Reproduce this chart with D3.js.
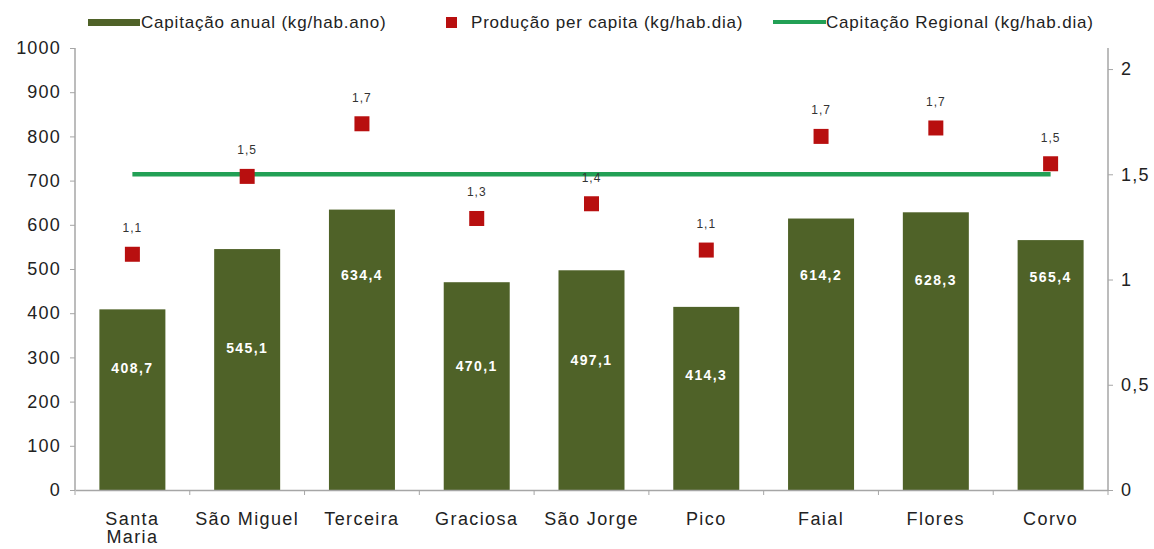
<!DOCTYPE html>
<html>
<head>
<meta charset="utf-8">
<script src="https://cdn.jsdelivr.net/npm/d3@7"></script>
<style>
  body { margin: 0; background: #fff; }
  text { font-family: "Liberation Sans", Arial, sans-serif; }
</style>
</head>
<body>
<svg id="chart" width="1154" height="549"></svg>
<script>
// data
var ilhas = ['Santa Maria', 'São Miguel', 'Terceira', 'Graciosa', 'São Jorge', 'Pico', 'Faial', 'Flores', 'Corvo'];
var capitacaoAnual = [408.7, 545.1, 634.4, 470.1, 497.1, 414.3, 614.2, 628.3, 565.4];
var producaoDia = [1.12, 1.49, 1.74, 1.29, 1.36, 1.14, 1.68, 1.72, 1.55];
var producaoLabels = ['1,1', '1,5', '1,7', '1,3', '1,4', '1,1', '1,7', '1,7', '1,5'];
var capitacaoRegional = 1.5;
var leftTicks = [0, 100, 200, 300, 400, 500, 600, 700, 800, 900, 1000];
var rightTicks = [0, 0.5, 1, 1.5, 2];
var legendNames = ['Capitação anual (kg/hab.ano)', 'Produção per capita (kg/hab.dia)', 'Capitação Regional (kg/hab.dia)'];
// where the value labels sit inside the bars (kg units, as placed in the original)
var barLabelAt = [276, 321, 486, 280, 294, 260, 486, 475, 482];

var svg = d3.select('#chart');
var margin = {top: 48, right: 46, bottom: 59, left: 75};
var width = +svg.attr('width') - margin.left - margin.right;
var height = +svg.attr('height') - margin.top - margin.bottom;
var g = svg.append('g').attr('transform', 'translate(' + margin.left + ',' + margin.top + ')');

var olive = '#4f6228', red = '#b80f0f', green = '#22a055', axisGray = '#a6a6a6';

var x = d3.scaleBand().domain(ilhas).range([0, width]).paddingInner(0.425).paddingOuter(0.2125);
var xTick = d3.scaleBand().domain(ilhas).range([0, width]);
var y = d3.scaleLinear().domain([0, 1000]).range([height, 0]);
var y2 = d3.scaleLinear().domain([0, 2.1]).range([height, 0]);
var fmt = function(v) { return String(v).replace('.', ','); };

// bars
g.selectAll('.bar')
  .data(capitacaoAnual)
  .enter().append('rect')
  .attr('class', 'bar')
  .attr('x', function(d, i) { return x(ilhas[i]); })
  .attr('y', function(d) { return y(d); })
  .attr('width', x.bandwidth())
  .attr('height', function(d) { return height - y(d); })
  .attr('fill', olive);

g.selectAll('.bar-label')
  .data(capitacaoAnual)
  .enter().append('text')
  .attr('class', 'bar-label')
  .attr('x', function(d, i) { return x(ilhas[i]) + x.bandwidth() / 2; })
  .attr('y', function(d, i) { return y(barLabelAt[i]); })
  .attr('dy', '0.35em')
  .attr('text-anchor', 'middle')
  .attr('fill', '#fff')
  .style('font-size', '14px')
  .style('font-weight', 'bold')
  .style('letter-spacing', '1.4px')
  .text(function(d) { return fmt(d.toFixed(1)); });

// regional line
var cx = function(i) { return xTick(ilhas[i]) + xTick.bandwidth() / 2; };
g.append('line')
  .attr('x1', cx(0)).attr('x2', cx(ilhas.length - 1))
  .attr('y1', y2(capitacaoRegional)).attr('y2', y2(capitacaoRegional))
  .attr('stroke', green).attr('stroke-width', 4.5);

// markers
g.selectAll('.pt')
  .data(producaoDia)
  .enter().append('rect')
  .attr('class', 'pt')
  .attr('x', function(d, i) { return cx(i) - 7.5; })
  .attr('y', function(d) { return y2(d) - 7.5; })
  .attr('width', 15).attr('height', 15)
  .attr('fill', red);

g.selectAll('.pt-label')
  .data(producaoDia)
  .enter().append('text')
  .attr('class', 'pt-label')
  .attr('x', function(d, i) { return cx(i); })
  .attr('y', function(d) { return y2(d) - 22; })
  .attr('text-anchor', 'middle')
  .attr('fill', '#333')
  .style('font-size', '12px')
  .style('letter-spacing', '1px')
  .text(function(d, i) { return producaoLabels[i]; });

// axes
var axL = g.append('g').call(d3.axisLeft(y).tickValues(leftTicks).tickSize(5).tickPadding(9).tickFormat(d3.format('d')));
var axR = g.append('g').attr('transform', 'translate(' + width + ',0)')
  .call(d3.axisRight(y2).tickValues(rightTicks).tickSize(5).tickPadding(8).tickFormat(fmt));
var axB = g.append('g').attr('transform', 'translate(0,' + height + ')')
  .call(d3.axisBottom(xTick).tickValues([]).tickSizeOuter(0));

[axL, axR].forEach(function(a) {
  a.select('.domain').attr('stroke', axisGray).attr('stroke-width', 1.5).attr('d', 'M0,' + height + 'V0');
  a.selectAll('.tick line').attr('stroke', axisGray);
  a.selectAll('.tick text').attr('fill', '#222').style('font-size', '18px').style('letter-spacing', '1.2px');
});
axB.select('.domain').attr('stroke', axisGray).attr('stroke-width', 1.5);

// category boundary ticks on the x axis
axB.selectAll('.cat-tick')
  .data(d3.range(ilhas.length + 1))
  .enter().append('line')
  .attr('x1', function(i) { return i * xTick.step(); })
  .attr('x2', function(i) { return i * xTick.step(); })
  .attr('y1', 0).attr('y2', 5)
  .attr('stroke', axisGray);

// category labels, wrapped like the original
axB.selectAll('.cat')
  .data(ilhas)
  .enter().append('text')
  .attr('class', 'cat')
  .attr('x', function(d, i) { return cx(i); })
  .attr('y', 35)
  .attr('text-anchor', 'middle')
  .attr('fill', '#222')
  .style('font-size', '18px')
  .style('letter-spacing', '1.4px')
  .each(function(d) {
    var parts = d === 'Santa Maria' ? ['Santa', 'Maria'] : [d];
    var t = d3.select(this);
    parts.forEach(function(p, k) {
      t.append('tspan').attr('x', t.attr('x')).attr('dy', k ? 18 : 0).text(p);
    });
  });

// legend
var leg = svg.append('g').attr('transform', 'translate(0,22)');
var legText = function(xPos, s) {
  leg.append('text').attr('x', xPos).attr('dy', '0.35em')
    .style('font-size', '17px').style('letter-spacing', '0.8px').attr('fill', '#222').text(s);
};
leg.append('rect').attr('x', 88).attr('y', -3).attr('width', 52).attr('height', 7).attr('fill', olive);
legText(141, legendNames[0]);
leg.append('rect').attr('x', 446).attr('y', -5).attr('width', 11).attr('height', 11).attr('fill', red);
legText(471, legendNames[1]);
leg.append('rect').attr('x', 773).attr('y', -2).attr('width', 53).attr('height', 4).attr('fill', green);
legText(826, legendNames[2]);
</script>
</body>
</html>
